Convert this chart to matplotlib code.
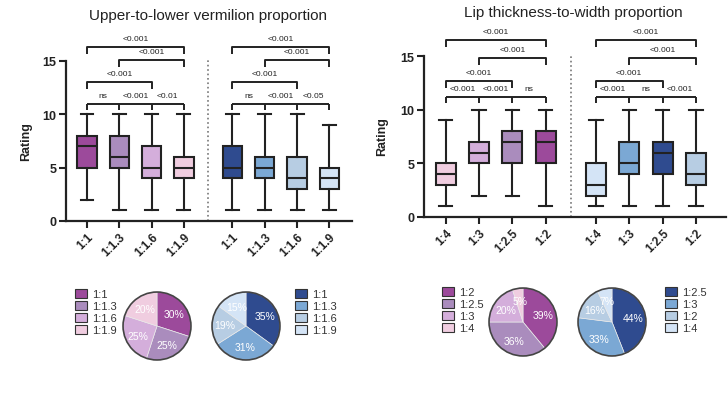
import matplotlib
matplotlib.use("Agg")
import matplotlib.pyplot as plt
from matplotlib.patches import Patch, Circle

plt.rcParams['font.family'] = ['Liberation Sans', 'DejaVu Sans']

W, H = 728, 402
INK = '#222222'

# ---- data ----
left_title = 'Upper-to-lower vermilion proportion'
right_title = 'Lip thickness-to-width proportion'

left_cats = ['1:1', '1:1.3', '1:1.6', '1:1.9']
right_cats = ['1:4', '1:3', '1:2.5', '1:2']

# (whislo, q1, med, q3, whishi)
left_purple = [(2, 5, 7, 8, 10), (1, 5, 6, 8, 10), (1, 4, 5, 7, 10), (1, 4, 5, 6, 10)]
left_blue = [(1, 4, 5, 7, 10), (1, 4, 5, 6, 10), (1, 3, 4, 6, 10), (1, 3, 4, 5, 9)]
right_purple = [(1, 3, 4, 5, 9), (2, 5, 6, 7, 10), (2, 5, 7, 8, 10), (1, 5, 7, 8, 10)]
right_blue = [(1, 2, 3, 5, 9), (1, 4, 5, 7, 10), (1, 4, 6, 7, 10), (1, 3, 4, 6, 10)]

left_purple_colors = ['#9c4a9b', '#aa8cbd', '#d4aedb', '#f0cde0']
left_blue_colors = ['#2f4b8f', '#7ba8d4', '#b7cde3', '#d4e4f6']
right_purple_colors = ['#f0cde0', '#d4aedb', '#aa8cbd', '#9c4a9b']
right_blue_colors = ['#d4e4f6', '#7ba8d4', '#2f4b8f', '#b7cde3']

# adjacent comparisons (comb) and wider comparisons (i, j, label)
left_comb_purple = ['ns', '<0.001', '<0.01']
left_comb_blue = ['ns', '<0.001', '<0.05']
right_comb_purple = ['<0.001', '<0.001', 'ns']
right_comb_blue = ['<0.001', 'ns', '<0.001']
wide_pairs = [(0, 2, '<0.001'), (1, 3, '<0.001'), (0, 3, '<0.001')]

# pies
left_pie_purple_labels = ['1:1', '1:1.3', '1:1.6', '1:1.9']
left_pie_purple = [30, 25, 25, 20]
left_pie_blue_labels = ['1:1', '1:1.3', '1:1.6', '1:1.9']
left_pie_blue = [35, 31, 19, 15]
right_pie_purple_labels = ['1:2', '1:2.5', '1:3', '1:4']
right_pie_purple = [39, 36, 20, 5]
right_pie_blue_labels = ['1:2.5', '1:3', '1:2', '1:4']
right_pie_blue = [44, 33, 16, 7]
pie_purple_colors = ['#9c4a9b', '#aa8cbd', '#d4aedb', '#f0cde0']
pie_blue_colors = ['#2f4b8f', '#7ba8d4', '#b7cde3', '#d4e4f6']

g1 = [1, 2, 3, 4]
g2 = [5.5, 6.5, 7.5, 8.5]


def px_axes(fig, x0, y_top, w, h):
    return fig.add_axes([x0 / W, 1 - (y_top + h) / H, w / W, h / H])


def stats(vals, label):
    lo, q1, med, q3, hi = vals
    return dict(whislo=lo, q1=q1, med=med, q3=q3, whishi=hi, label=label, fliers=[])


def draw_boxes(ax, data, pos, colors, cats):
    bp = ax.bxp([stats(v, c) for v, c in zip(data, cats)], positions=pos, widths=0.6,
                capwidths=0.4, patch_artist=True, showfliers=False,
                boxprops=dict(edgecolor=INK, linewidth=1.5),
                medianprops=dict(color=INK, linewidth=1.5),
                whiskerprops=dict(color=INK, linewidth=1.5),
                capprops=dict(color=INK, linewidth=1.5))
    for b, c in zip(bp['boxes'], colors):
        b.set_facecolor(c)


def draw_sig(ax, pos, comb_y, comb_labels, levels):
    kw = dict(color=INK, linewidth=1.4, solid_capstyle='butt')
    tk = dict(ha='center', va='bottom', fontsize=6, color=INK)
    ax.plot([pos[0], pos[-1]], [comb_y, comb_y], **kw)
    for p in pos:
        ax.plot([p, p], [comb_y, comb_y - 0.6], **kw)
    for k, lab in enumerate(comb_labels):
        ax.text((pos[k] + pos[k + 1]) / 2, comb_y + 0.45, lab, **tk)
    for (i, j, lab), y in zip(wide_pairs, levels):
        ax.plot([pos[i], pos[i], pos[j], pos[j]], [y - 0.65, y, y, y - 0.65], **kw)
        ax.text((pos[i] + pos[j]) / 2, y + 0.45, lab, **tk)


def style_box_axes(ax, cats, xmax):
    ax.set_xlim(0.35, xmax)
    ax.set_ylim(0, 18)
    ax.spines['top'].set_visible(False)
    ax.spines['right'].set_visible(False)
    for s in ('left', 'bottom'):
        ax.spines[s].set_linewidth(1.6)
        ax.spines[s].set_color(INK)
    ax.spines['left'].set_bounds(0, 15)
    ax.set_yticks([0, 5, 10, 15])
    ax.set_xticks(g1 + g2)
    ax.set_xticklabels(cats + cats, rotation=45, ha='right', rotation_mode='anchor',
                       fontsize=8.5, fontweight='bold', color=INK)
    for t in ax.get_yticklabels():
        t.set_fontweight('bold')
        t.set_fontsize(9)
        t.set_color(INK)
    ax.tick_params(direction='out', length=5, width=1.5, color=INK, pad=2)
    ax.set_ylabel('Rating', fontsize=9, fontweight='bold', color=INK)
    ax.yaxis.set_label_coords(-0.12, 0.42)
    ax.plot([4.75, 4.75], [0, 15.2], color='#777777', linestyle=':', linewidth=1.2)
    ax.patch.set_visible(False)


def draw_pie(fig, cx, cy, vals, colors):
    r = 36
    ax = px_axes(fig, cx - r, cy - r, 2 * r, 2 * r)
    ax.pie(vals, colors=colors, startangle=90, counterclock=False,
           autopct=lambda p: '%d%%' % round(p), pctdistance=0.62,
           wedgeprops=dict(edgecolor='#e8e8e8', linewidth=0.5),
           textprops=dict(color='white', fontsize=7.5))
    ax.add_patch(Circle((0, 0), 1, fill=False, edgecolor='#444444', linewidth=1.2))
    ax.set_xlim(-1.06, 1.06)
    ax.set_ylim(-1.06, 1.06)
    ax.set_aspect('equal')
    ax.axis('off')


def draw_legend(fig, x, y, labels, colors):
    handles = [Patch(facecolor=c, edgecolor='#333333', linewidth=0.8) for c in colors]
    fig.legend(handles, labels, loc='upper left', bbox_to_anchor=(x / W, 1 - y / H),
               frameon=False, borderpad=0, borderaxespad=0, handlelength=1.1,
               handleheight=0.8, handletextpad=0.4, labelspacing=0.18,
               prop=dict(size=8), labelcolor='#333333')


fig = plt.figure(figsize=(W / 100, H / 100), dpi=100)

# left box chart
axL = px_axes(fig, 66, 222 - 18 * 10.67, 286, 18 * 10.67)
draw_boxes(axL, left_purple, g1, left_purple_colors, left_cats)
draw_boxes(axL, left_blue, g2, left_blue_colors, left_cats)
style_box_axes(axL, left_cats, 9.2)
draw_sig(axL, g1, 11.0, left_comb_purple, [13.0, 15.1, 16.3])
draw_sig(axL, g2, 11.0, left_comb_blue, [13.0, 15.1, 16.3])
fig.text(208 / W, 1 - 16 / H, left_title, ha='center', va='center', fontsize=11, color=INK)

# right box chart
axR = px_axes(fig, 424, 218 - 18 * 10.73, 302, 18 * 10.73)
draw_boxes(axR, right_purple, g1, right_purple_colors, right_cats)
draw_boxes(axR, right_blue, g2, right_blue_colors, right_cats)
style_box_axes(axR, right_cats, 9.4)
draw_sig(axR, g1, 11.2, right_comb_purple, [12.7, 14.8, 16.5])
draw_sig(axR, g2, 11.2, right_comb_blue, [12.7, 14.8, 16.5])
fig.text(573 / W, 1 - 13 / H, right_title, ha='center', va='center', fontsize=11, color=INK)

# pies and legends
draw_pie(fig, 157, 327, left_pie_purple, pie_purple_colors)
draw_pie(fig, 246, 327, left_pie_blue, pie_blue_colors)
draw_pie(fig, 523, 323, right_pie_purple, pie_purple_colors)
draw_pie(fig, 612, 323, right_pie_blue, pie_blue_colors)
draw_legend(fig, 75, 290, left_pie_purple_labels, pie_purple_colors)
draw_legend(fig, 295, 290, left_pie_blue_labels, pie_blue_colors)
draw_legend(fig, 442, 288, right_pie_purple_labels, pie_purple_colors)
draw_legend(fig, 665, 288, right_pie_blue_labels, pie_blue_colors)

fig.savefig('out.png', dpi=100)
